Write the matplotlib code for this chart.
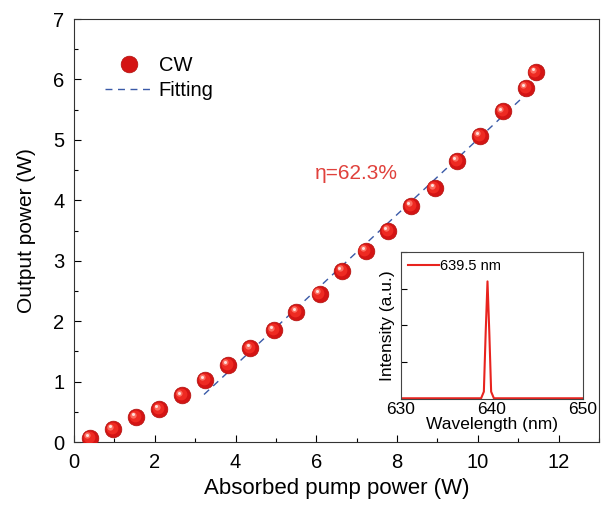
import matplotlib
matplotlib.use("Agg")
import matplotlib.pyplot as plt
from matplotlib.ticker import MultipleLocator
import matplotlib.transforms as mtransforms
import numpy as np

plt.rcParams['font.family'] = ['Liberation Sans', 'DejaVu Sans']

# Data
absorbed_power = [0.39, 0.96, 1.53, 2.11, 2.67, 3.24, 3.81, 4.37, 4.95, 5.51, 6.08,
                  6.64, 7.22, 7.78, 8.35, 8.93, 9.49, 10.05, 10.62, 11.19, 11.43]
output_power = [0.07, 0.21, 0.41, 0.54, 0.77, 1.03, 1.28, 1.55, 1.85, 2.15, 2.45,
                2.83, 3.16, 3.49, 3.91, 4.20, 4.65, 5.07, 5.47, 5.86, 6.12]
fit_x_range = [3.22, 11.27]
fit_slope = 0.623
fit_intercept = -1.22

wavelength = [630.0, 638.8, 639.1, 639.3, 639.5, 639.7, 639.9, 640.2, 650.0]
intensity = [0.005, 0.005, 0.05, 0.45, 0.80, 0.45, 0.05, 0.005, 0.005]

red = '#e8231e'
fig = plt.figure(figsize=(6.03, 5.07), dpi=100)
ax = fig.add_axes([0.1227, 0.1282, 0.8706, 0.8343])

fx = np.array(fit_x_range)
ax.plot(fx, fit_slope * fx + fit_intercept, ls=(0, (5, 4)), color='#3a5aa8', lw=1.0,
        label='Fitting', zorder=2)
ax.plot(absorbed_power, output_power, 'o', ms=12, color='#d41414', mec='#b0100c', mew=0.5,
        label='CW', zorder=3)
# shading layers for sphere look
sh1 = mtransforms.offset_copy(ax.transData, fig=fig, x=-0.8, y=0.8, units='points')
ax.plot(absorbed_power, output_power, 'o', ms=8.5, color='#ee2a22', mew=0,
        transform=sh1, zorder=4)
sh2 = mtransforms.offset_copy(ax.transData, fig=fig, x=-1.8, y=1.9, units='points')
ax.plot(absorbed_power, output_power, 'o', ms=4.5, color='#ff7a6c', mew=0, alpha=0.85,
        transform=sh2, zorder=5)
sh3 = mtransforms.offset_copy(ax.transData, fig=fig, x=-2.0, y=2.1, units='points')
ax.plot(absorbed_power, output_power, 'o', ms=2.2, color='#ffe0dc', mew=0,
        transform=sh3, zorder=6)

ax.set_xlim(0, 13)
ax.set_ylim(0, 7)
ax.xaxis.set_major_locator(MultipleLocator(2))
ax.xaxis.set_minor_locator(MultipleLocator(1))
ax.yaxis.set_major_locator(MultipleLocator(1))
ax.yaxis.set_minor_locator(MultipleLocator(0.5))
ax.tick_params(which='both', direction='in', top=False, right=False, labelsize=14.5)
ax.tick_params(which='major', length=5, width=0.8)
ax.tick_params(which='minor', length=3, width=0.8)
ax.tick_params(axis='x', which='both', pad=8)
ax.tick_params(axis='y', which='both', pad=7)
ax.set_xlabel('Absorbed pump power (W)', fontsize=16, labelpad=4)
ax.set_ylabel('Output power (W)', fontsize=15, labelpad=12)
for s in ax.spines.values():
    s.set_color('#333333')

ax.text(5.97, 4.44, 'η=62.3%', color='#e0413c', fontsize=15, va='center', ha='left')

handles, labels = ax.get_legend_handles_labels()
leg = ax.legend([handles[1], handles[0]], [labels[1], labels[0]], loc='upper left',
                bbox_to_anchor=(0.06, 0.913), frameon=False, fontsize=14.5,
                handlelength=2.35, labelspacing=0.3, handletextpad=0.3,
                borderaxespad=0, borderpad=0)

# Inset
ins = fig.add_axes([0.665, 0.213, 0.302, 0.290])
ins.plot(wavelength, intensity, color=red, lw=1.5, label='639.5 nm')
ins.set_xlim(630, 650)
ins.set_ylim(0, 1)
ins.xaxis.set_major_locator(MultipleLocator(10))
ins.yaxis.set_major_locator(MultipleLocator(0.25))
ins.tick_params(which='both', direction='in', top=False, right=False, labelsize=12.5, pad=2)
ins.tick_params(axis='y', labelleft=False, length=4)
ins.tick_params(axis='x', which='both', length=0)
ins.set_xlabel('Wavelength (nm)', fontsize=12.5, labelpad=0)
ins.set_ylabel('Intensity (a.u.)', fontsize=12.5, labelpad=4)
for s in ins.spines.values():
    s.set_color('#444444')
ins.legend(loc='upper left', frameon=False, fontsize=10.5, handlelength=2.1,
           handletextpad=0.1, borderaxespad=0.3, borderpad=0.2)

fig.savefig('out.png', dpi=100)
